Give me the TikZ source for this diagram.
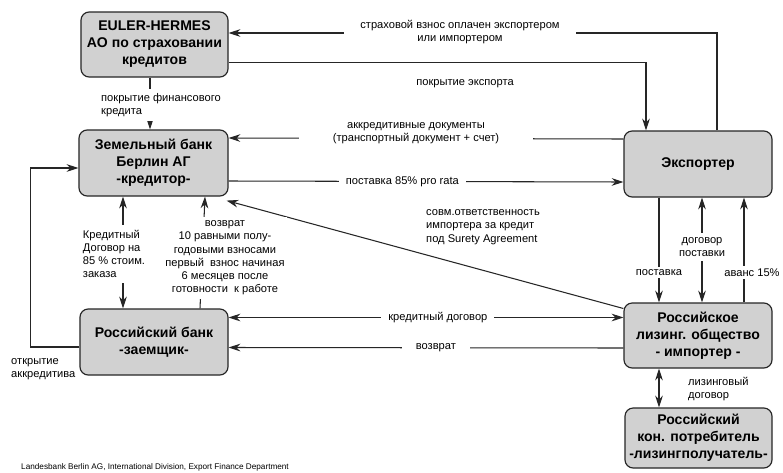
\documentclass[tikz,border=0pt]{standalone}
\usepackage{fontspec}
\setmainfont{Liberation Sans}
\usetikzlibrary{calc,arrows.meta}
\begin{document}
\begin{tikzpicture}[x=0.03cm,y=-0.03cm,
 box/.style={draw=black!85, line width=1pt, fill=black!18, rounded corners=7pt, align=center,
   font=\bfseries\fontsize{12}{14.5}\selectfont, inner sep=0pt},
 lbl/.style={font=\fontsize{9.5}{11.3}\selectfont, align=center, fill=white, inner sep=2pt},
 con/.style={line width=0.9pt, draw=black!85},
 arr/.style={con, -{Stealth[length=10pt,width=6.5pt]}},
 arrb/.style={con, {Stealth[length=10pt,width=6.5pt]}-{Stealth[length=10pt,width=6.5pt]}},
]
\useasboundingbox[fill=white] (0,0) rectangle (783,472);

% boxes
\node[box, minimum width=4.41cm, minimum height=1.95cm] (EH) at (154.5,44.5) {EULER-HERMES\\АО по страховании\\кредитов};
\node[box, minimum width=4.47cm, minimum height=1.98cm] (ZB) at (153.5,163) {Земельный банк\\Берлин АГ\\-кредитор-};
\node[box, minimum width=4.44cm, minimum height=1.98cm] (RB) at (154,342) {Российский банк\\-заемщик-};
\node[box, minimum width=4.44cm, minimum height=1.98cm] (EX) at (698,164) {Экспортер};
\node[box, minimum width=4.44cm, minimum height=1.95cm] (RL) at (698,335.5) {Российское\\лизинг. общество\\- импортер -};
\node[box, minimum width=4.41cm, minimum height=1.8cm] (RK) at (698.5,438) {Российский\\кон. потребитель\\-лизингполучатель-};

% top: premium
\draw[arr] ($(EX.north)+(19,0)$) |- ($(EH.east)+(0,-11.5)$);
\node[lbl, inner xsep=14pt] (tPrem) at (460,32) {страховой взнос оплачен экспортером\\или импортером};

% export cover
\draw[arr] ($(EH.east)+(0,18)$) -| ($(EX.north)+(-52,0)$);
\node[lbl] (tCov) at (465,84) {покрытие экспорта};

% documents
\draw[arr] ($(EX.west)+(0,-25)$) -- ($(ZB.east)+(0,-25)$);
\node[lbl, inner xsep=1cm] (tDoc) at (416,133) {аккредитивные документы\\(транспортный документ + счет)};

% delivery 85%
\draw[arr] ($(ZB.east)+(0,18)$) -- node[lbl, pos=0.44, inner xsep=6pt] {поставка 85\% pro rata} ($(EX.west)+(0,18)$);

% surety diagonal
\draw[arr] ($(RL.west)+(0,-27)$) -- ($(ZB.south east)+(-2,4)$);
\node[font=\fontsize{9.5}{11.3}\selectfont, align=left, anchor=west, inner sep=0pt] (tSur) at (426,227) {совм.ответственность\\импортера за кредит\\под Surety Agreement};

% exporter / importer verticals
\draw[arr] ($(EX.south)+(-39,0)$) -- node[lbl, pos=0.717] {поставка} ($(RL.north)+(-39,0)$);
\draw[arrb] ($(EX.south)+(4,0)$) -- node[lbl, pos=0.47, inner ysep=4pt] {договор\\поставки} ($(RL.north)+(4,0)$);
\draw[arr] ($(RL.north)+(46,0)$) -- node[lbl, pos=0.283, xshift=0.24cm] {аванс 15\%} ($(EX.south)+(46,0)$);

% leasing contract
\draw[arrb] ($(RL.south)+(-39,0)$) -- ($(RK.north)+(-39.5,0)$);
\node[font=\fontsize{9.5}{11.3}\selectfont, align=left, anchor=west, inner sep=0pt] (tLease) at (688,389) {лизинговый\\договор};

% credit contract / repayment
\draw[arrb] ($(RL.west)+(0,-18)$) -- node[lbl, pos=0.47, inner xsep=6pt] {кредитный договор} ($(RB.east)+(0,-24.5)$);
\draw[arr] ($(RL.west)+(0,12.5)$) -- node[lbl, pos=0.475, inner xsep=12pt] {возврат} ($(RB.east)+(0,5.5)$);

% opening of L/C loop
\draw[arr] ($(RB.west)+(0,5)$) -- ++(-49,0) |- ($(ZB.west)+(0,5)$);
\node[font=\fontsize{9.5}{11.3}\selectfont, align=left, anchor=north west, inner sep=0pt] (tOpen) at (11,358) {открытие\\аккредитива};

% credit agreement vertical
\draw[arrb] ($(ZB.south)+(-30.5,0)$) -- ($(RB.north)+(-31,0)$);
\node[lbl, align=left, inner ysep=4pt] (tCA) at (114,254) {Кредитный\\Договор на\\85 \% стоим.\\заказа};

% repayment in 10 instalments
\draw[arr] ($(RB.north)+(46,0)$) -- ($(ZB.south)+(51.5,0)$);
\node[lbl, inner ysep=3pt] (tRep) at (225,258) {возврат\\10 равными полу-\\годовыми взносами\\первый\ \ взнос начиная\\6 месяцев после\\готовности\ \ к работе};

% financial credit cover
\draw[arr] ($(EH.south)+(-4.5,0)$) -- ($(ZB.north)+(-3.5,0)$);
\node[lbl, align=left, inner ysep=4pt] (tFin) at (161,105) {покрытие финансового\\кредита};

% footer
\node[font=\fontsize{7}{8}\selectfont, anchor=base west, inner sep=0pt] (foot) at (21,469) {Landesbank Berlin AG, International Division, Export Finance Department};
\end{tikzpicture}
\end{document}
